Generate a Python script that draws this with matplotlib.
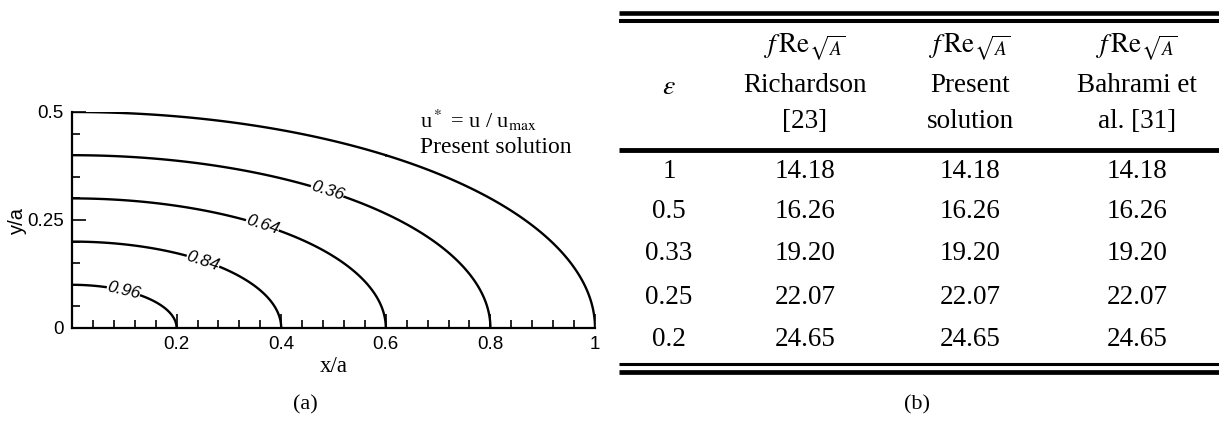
import numpy as np
import matplotlib
matplotlib.use("Agg")
import matplotlib.pyplot as plt
from matplotlib.ticker import MultipleLocator

plt.rcParams['font.family'] = ['Liberation Serif', 'DejaVu Serif']
plt.rcParams['mathtext.fontset'] = 'stix'

# elliptical duct, semi-axes a = 1 and b = 0.5 (epsilon = b/a = 0.5)
SEMI_A = 1.0
SEMI_B = 0.5
WALL_LEVEL = [0.0]
LABEL_LEVELS = [0.36, 0.64, 0.84, 0.96]
LABEL_SPOTS = [(0.493, 0.336), (0.363, 0.234), (0.25, 0.153), (0.0975, 0.081)]

# friction factor table
EPSILON = ['1', '0.5', '0.33', '0.25', '0.2']
RICHARDSON = [14.18, 16.26, 19.20, 22.07, 24.65]
PRESENT = [14.18, 16.26, 19.20, 22.07, 24.65]
BAHRAMI = [14.18, 16.26, 19.20, 22.07, 24.65]
HEADERS = [
    [r'$\varepsilon$'],
    [r'$f\,\mathrm{Re}_{\sqrt{A}}$', 'Richardson', '[23]'],
    [r'$f\,\mathrm{Re}_{\sqrt{A}}$', 'Present', 'solution'],
    [r'$f\,\mathrm{Re}_{\sqrt{A}}$', 'Bahrami et', 'al. [31]'],
]

W, H = 1219, 421
fig = plt.figure(figsize=(W / 100, H / 100), dpi=100)

# ---- (a) velocity contours ----
ax = fig.add_axes([72 / W, (H - 328) / H, 523 / W, 216 / H])
x = np.linspace(0, 1.0, 801)
y = np.linspace(0, 0.5, 401)
X, Y = np.meshgrid(x, y)
U = 1 - (X / SEMI_A) ** 2 - (Y / SEMI_B) ** 2
ax.contour(X, Y, U, levels=WALL_LEVEL, colors='black', linewidths=1.7)
cs = ax.contour(X, Y, U, levels=LABEL_LEVELS, colors='black', linewidths=1.7)
lab = cs.clabel(fmt='%.2f', manual=LABEL_SPOTS, fontsize=12.5, inline_spacing=2)
for t in lab:
    t.set_fontfamily('Liberation Sans')
    t.set_fontstyle('italic')

ax.set_xlim(0, 1)
ax.set_ylim(0, 0.5)
for side in ('top', 'right'):
    ax.spines[side].set_visible(False)
for side in ('left', 'bottom'):
    ax.spines[side].set_linewidth(1.6)
ax.set_xticks([0.2, 0.4, 0.6, 0.8, 1.0])
ax.set_xticklabels(['0.2', '0.4', '0.6', '0.8', '1'])
ax.set_yticks([0, 0.25, 0.5])
ax.set_yticklabels(['0', '0.25', '0.5'])
ax.xaxis.set_minor_locator(MultipleLocator(0.04))
ax.yaxis.set_minor_locator(MultipleLocator(0.05))
ax.tick_params(which='both', direction='in', width=1.2, labelsize=13.5,
               labelfontfamily='Liberation Sans')
ax.tick_params(which='major', length=10, pad=6)
ax.tick_params(which='minor', length=6)
ax.set_xlabel('x/a', fontsize=16.5, labelpad=2)
ax.set_ylabel('y/a', fontsize=14.5, family='Liberation Sans', labelpad=0)
ax.patch.set_visible(False)

ax.text(0.665, 0.481, r'u$^*$ = u / u$_{\mathrm{max}}$', fontsize=16,
        va='center', ha='left')
ax.text(0.665, 0.417, 'Present solution', fontsize=17, va='center', ha='left')

# ---- (b) table, drawn in pixel coordinates ----
tb = fig.add_axes([0, 0, 1, 1], zorder=-1)
tb.set_xlim(0, W)
tb.set_ylim(H, 0)
tb.axis('off')

x0, x1 = 619, W
for yy, lw in [(12.5, 3.3), (21, 2.9), (149.5, 3.5), (364, 2.2), (372, 3.4)]:
    tb.plot([x0, x1], [yy, yy], color='black', lw=lw, solid_capstyle='butt')

col_x = [669, 805, 970, 1137]
head_y = [47, 85, 122]
tb.text(col_x[0], 87, HEADERS[0][0], fontsize=20, ha='center', va='center')
for cx, lines in zip(col_x[1:], HEADERS[1:]):
    for yy, s in zip(head_y, lines):
        tb.text(cx, yy, s, fontsize=19.5, ha='center', va='center')

row_y = [171, 212, 254, 297, 339]
for i, yy in enumerate(row_y):
    cells = [EPSILON[i], f'{RICHARDSON[i]:.2f}', f'{PRESENT[i]:.2f}',
             f'{BAHRAMI[i]:.2f}']
    for cx, s in zip(col_x, cells):
        tb.text(cx, yy, s, fontsize=19.5, ha='center', va='center')

tb.text(305, 405, '(a)', fontsize=16, ha='center', va='center')
tb.text(917, 405, '(b)', fontsize=16, ha='center', va='center')

fig.savefig('out.png', dpi=100)
